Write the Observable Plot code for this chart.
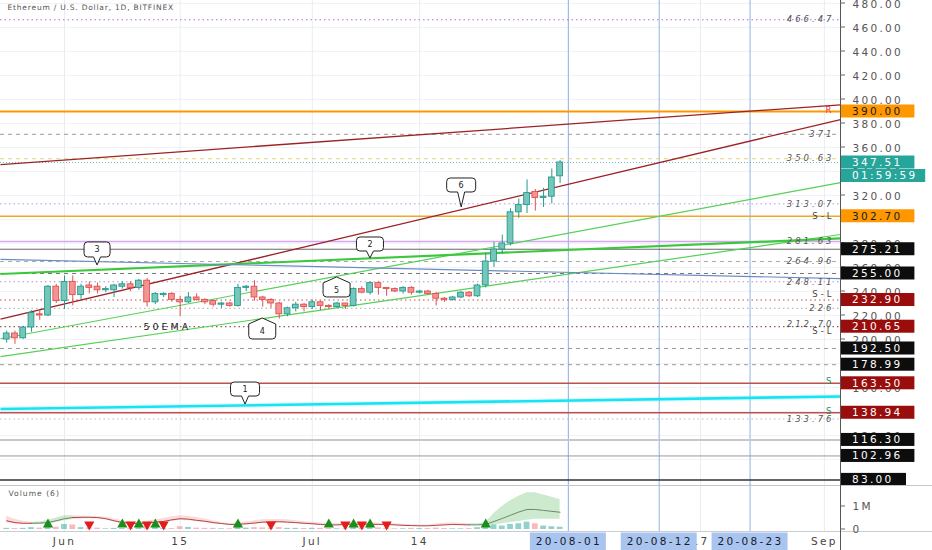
<!DOCTYPE html>
<html>
<head>
<meta charset="utf-8">
<script src="https://cdn.jsdelivr.net/npm/d3@7"></script>
<script src="https://cdn.jsdelivr.net/npm/@observablehq/plot@0.6"></script>
<style>
  html,body{margin:0;padding:0;background:#fff;}
  #chart{position:relative;width:932px;height:550px;overflow:hidden;}
  #chart svg{display:block;}
  #chart g[font-size="7.5"]{letter-spacing:0.8px;}
  #chart g[font-size="7.6"]{letter-spacing:1px;}
  #chart g[font-size="8.5"]{letter-spacing:3px;}
  #chart g[font-size="9.5"]{letter-spacing:3px;}
  #chart g[font-size="10.5"]{letter-spacing:2.3px;}
  #chart text.lsbox{letter-spacing:2.3px;}
</style>
</head>
<body>
<div id="chart"></div>
<script>
// ---------------- DATA ----------------
const title = "Ethereum / U.S. Dollar, 1D, BITFINEX";
const firstDay = "2020-05-25", lastDay = "2020-07-31";

const opens = [200,205,201,210,221,220,244,
  232,248,237,245,244,241,241,244,246,243,
  249,231,237,238,233,231,235,233,232,229,
  230,228,243,244,235,233,230,221,226,229,
  227,231,228,227,230,228,242,239,247,243,
  242,240,243,239,240,238,234,233,235,239,
  236,245,265,275,280,306,312,323,318,319,
  336];
const highs = [207,207,211,224,224,245,246,
  253,253,246,248,247,244,246,248,248,250,
  251,239,239,239,236,239,238,234,233,231,
  231,246,245,249,236,234,231,227,231,230,
  233,232,229,231,230,243,244,248,248,243,
  243,244,244,241,241,239,235,236,240,240,
  246,272,281,287,309,317,333,325,326,342,
  349];
const lows = [197,196,200,206,216,219,230,
  225,228,233,238,238,239,235,242,240,241,
  227,229,235,231,219,230,232,229,227,226,
  227,227,240,232,227,226,217,219,223,223,
  225,224,225,226,225,227,238,237,237,236,
  239,238,237,238,237,228,231,232,234,235,
  235,243,260,271,278,301,305,307,310,313,
  330];
const closes = [205,201,210,222,220,244,232,
  248,237,244,243,241,242,245,246,243,249,
  231,238,238,233,231,235,233,231,229,230,
  228,243,244,235,233,230,221,226,229,227,
  231,228,227,230,228,242,239,247,243,242,
  240,243,239,240,238,234,233,235,239,236,
  245,265,275,280,306,312,322,318,319,335,
  347.51];
// volume, in millions
const volumes = [0.05,0.04,0.05,0.08,0.06,0.18,0.10,
  0.22,0.20,0.08,0.07,0.06,0.03,0.05,0.04,0.05,0.08,
  0.18,0.10,0.04,0.04,0.12,0.09,0.06,0.05,0.05,0.03,
  0.03,0.12,0.06,0.08,0.07,0.06,0.08,0.05,0.05,0.04,
  0.05,0.05,0.04,0.03,0.03,0.10,0.07,0.08,0.07,0.05,
  0.03,0.03,0.05,0.04,0.04,0.06,0.04,0.03,0.03,0.04,
  0.08,0.20,0.20,0.15,0.22,0.25,0.32,0.25,0.15,0.12,
  0.10];
const volumeMA = [0.38,0.30,0.27,0.27,0.28,0.30,0.38,
  0.47,0.52,0.53,0.53,0.52,0.47,0.38,0.30,0.27,0.26,
  0.28,0.32,0.35,0.42,0.47,0.45,0.40,0.36,0.30,0.26,
  0.22,0.22,0.25,0.28,0.32,0.33,0.34,0.32,0.30,0.27,
  0.25,0.22,0.20,0.20,0.22,0.23,0.23,0.23,0.22,0.22,
  0.20,0.18,0.17,0.16,0.16,0.18,0.20,0.22,0.21,0.20,
  0.20,0.22,0.35,0.48,0.62,0.76,0.87,0.87,0.83,0.79,
  0.75];
const bandUpper = [0.58,0.45,0.36,0.32,0.33,0.40,0.50,
  0.60,0.60,0.58,0.57,0.56,0.53,0.46,0.38,0.33,0.31,
  0.36,0.42,0.48,0.55,0.60,0.58,0.52,0.46,0.38,0.30,
  0.26,0.28,0.33,0.38,0.42,0.44,0.44,0.42,0.38,0.34,
  0.32,0.28,0.25,0.25,0.28,0.30,0.30,0.29,0.28,0.27,
  0.25,0.23,0.21,0.20,0.20,0.24,0.27,0.29,0.27,0.25,
  0.25,0.30,0.70,1.00,1.25,1.45,1.60,1.60,1.50,1.40,
  1.30];
const bandLower = [0.28,0.24,0.22,0.22,0.22,0.24,0.30,
  0.38,0.44,0.46,0.47,0.46,0.41,0.33,0.26,0.23,0.22,
  0.23,0.26,0.29,0.35,0.39,0.38,0.34,0.30,0.25,0.22,
  0.19,0.18,0.20,0.23,0.26,0.27,0.28,0.27,0.25,0.23,
  0.21,0.19,0.17,0.17,0.18,0.19,0.19,0.19,0.18,0.18,
  0.17,0.15,0.14,0.13,0.13,0.15,0.17,0.18,0.18,0.17,
  0.17,0.18,0.20,0.25,0.30,0.35,0.40,0.45,0.45,0.45,
  0.45];
const greenSpans = [["2020-05-29","2020-06-02"],["2020-07-21","2020-07-31"]];
const upSignals = ["2020-05-30","2020-06-08","2020-06-10","2020-06-12","2020-06-22","2020-07-03","2020-07-06","2020-07-08","2020-07-22"];
const downSignals = ["2020-06-04","2020-06-09","2020-06-11","2020-06-13","2020-06-26","2020-07-05","2020-07-07","2020-07-10"];

const priceTicks = [100,120,140,160,180,200,220,240,260,280,300,320,340,360,380,400,420,440,460,480];
const gridDates = ["2020-06-01","2020-06-15","2020-07-01","2020-07-14","2020-08-01","2020-08-17","2020-09-01"];
const xTickDates = ["2020-06-01","2020-06-15","2020-07-01","2020-07-14","2020-08-17","2020-09-01"];
const xTickLabels = ["Jun","15","Jul","14","17","Sep"];
const markerDates = ["2020-08-01","2020-08-12","2020-08-23"];
const markerLabels = ["20-08-01","20-08-12","20-08-23"];

const levelPrices = [466.47,390,371,350.63,347.51,313.07,302.7,281.63,275.21,264.96,255,248.11,232.9,226,210.65,192.5,178.99,163.5,138.94,133.76,116.3,102.96,83];
const levelLabels = [
  {price:466.47,text:"466.47"},{price:371,text:"371"},{price:350.63,text:"350.63"},
  {price:313.07,text:"313.07"},{price:281.63,text:"281.63"},{price:264.96,text:"264.96"},
  {price:248.11,text:"248.11"},{price:226,text:"226"},{price:212.7,text:"212.70"},{price:133.76,text:"133.76"}
];
const tags = [
  {price:390,text:"R"},{price:302.7,text:"S-L"},{price:232.9,text:"S-L"},
  {price:210.65,text:"S-L"},{price:163.5,text:"S"},{price:138.94,text:"S"}
];
const priceBoxes = [
  {price:390,text:"390.00",kind:"orange"},
  {price:347.51,text:"347.51",kind:"teal"},
  {price:347.51,text:"01:59:59",kind:"teal",stack:1},
  {price:302.7,text:"302.70",kind:"orange"},
  {price:275.21,text:"275.21",kind:"black"},
  {price:255,text:"255.00",kind:"black"},
  {price:232.9,text:"232.90",kind:"red"},
  {price:210.65,text:"210.65",kind:"red"},
  {price:192.5,text:"192.50",kind:"black"},
  {price:178.99,text:"178.99",kind:"black"},
  {price:163.5,text:"163.50",kind:"red"},
  {price:138.94,text:"138.94",kind:"red"},
  {price:116.3,text:"116.30",kind:"black"},
  {price:102.96,text:"102.96",kind:"black"},
  {price:83,text:"83.00",kind:"black"}
];
const xDomain = [new Date("2020-05-24T06:00Z"), new Date("2020-09-02T22:48Z")];
const trendLines = [
  {id:"resUpper", p1:345.8, p2:395.6},
  {id:"resLower", p1:216.9, p2:383.3},
  {id:"greenA", p1:200.6, p2:330.8},
  {id:"greenB", p1:185.7, p2:287.5},
  {id:"greenC", p1:254.6, p2:284.2},
  {id:"blue", p1:266.7, p2:250.8},
  {id:"cyan", p1:142.1, p2:152.5}
];
const callouts = [
  {label:"1", date:"2020-06-22T22:00Z", price:145.8, pointer:"down"},
  {label:"2", date:"2020-07-08T01:00Z", price:267.5, pointer:"down"},
  {label:"3", date:"2020-06-05T00:00Z", price:261.7, pointer:"down"},
  {label:"4", date:"2020-06-25T00:00Z", price:217.5, pointer:"up"},
  {label:"5", date:"2020-07-04T00:00Z", price:251.7, pointer:"up"},
  {label:"6", date:"2020-07-19T02:00Z", price:310.0, pointer:"down"}
];
const emaNote = {date:"2020-06-13T11:00Z", price:210.8, text:"50EMA"};

// ---------------- STYLES ----------------
const levelStyle = {
  "466.47":{stroke:"#b36ae2",strokeWidth:1.2,strokeDasharray:"1.5,3"},
  "390":{stroke:"#ff9800",strokeWidth:2},
  "371":{stroke:"#9a9a9a",strokeDasharray:"4,4"},
  "350.63":{stroke:"#e3d37a",strokeDasharray:"4,4"},
  "347.51":{stroke:"#26a69a",strokeDasharray:"1,2",strokeOpacity:0.7},
  "313.07":{stroke:"#c490e4",strokeDasharray:"1.5,3"},
  "302.7":{stroke:"#f5a623",strokeWidth:1.3},
  "281.63":{stroke:"#d7a6f2",strokeWidth:1.5},
  "275.21":{stroke:"#666",strokeWidth:1},
  "264.96":{stroke:"#aaa",strokeDasharray:"4,4"},
  "255":{stroke:"#777",strokeDasharray:"4,4"},
  "248.11":{stroke:"#b58bd8",strokeDasharray:"1.5,3"},
  "232.9":{stroke:"#d24a4a",strokeDasharray:"1.5,3"},
  "226":{stroke:"#aaa",strokeDasharray:"1.5,3"},
  "210.65":{stroke:"#7a3030",strokeDasharray:"1.5,3"},
  "192.5":{stroke:"#999",strokeDasharray:"4,4"},
  "178.99":{stroke:"#999",strokeDasharray:"4,4"},
  "163.5":{stroke:"#c0504d",strokeWidth:1.5},
  "138.94":{stroke:"#c0504d",strokeWidth:1.5},
  "133.76":{stroke:"#bbb",strokeDasharray:"1.5,3"},
  "116.3":{stroke:"#c8c8c8",strokeWidth:2},
  "102.96":{stroke:"#9a9a9a",strokeWidth:1},
  "83":{stroke:"#333",strokeWidth:1.5}
};
const trendStyle = {
  resUpper:{stroke:"#9b2226",strokeWidth:1.3},
  resLower:{stroke:"#9b2226",strokeWidth:1.3},
  greenA:{stroke:"#55d155",strokeWidth:1.2},
  greenB:{stroke:"#55d155",strokeWidth:1.2},
  greenC:{stroke:"#3cc83c",strokeWidth:2.2},
  blue:{stroke:"#6a8cc4",strokeWidth:1.2},
  cyan:{stroke:"#19e3f2",strokeWidth:2.6}
};
const tagStyle = {
  "R":{fill:"#e53935"},
  "S":{fill:"#2e8b57"}
};
const tagDy = [-1,0,-6,5,-2,-2];
const boxFill = {orange:"#ff9800",teal:"#26a69a",black:"#0d0d0d",red:"#9a0d0d"};
const boxText = {orange:"#1a1a1a",teal:"#ffffff",black:"#ffffff",red:"#ffffff"};
const calloutShape = {
  "1":{w:29,h:14,ptr:8},"2":{w:27,h:14,ptr:7},"3":{w:26,h:15,ptr:8},
  "4":{w:27,h:15,ptr:6},"5":{w:27,h:14,ptr:6},"6":{w:29,h:14,ptr:15}
};
const upC = {fill:"#74c7ba",stroke:"#26998c"}, dnC = {fill:"#f39494",stroke:"#e04f4f"};

// ---------------- BUILD ----------------
const day = t => new Date(t.length > 10 ? t : t + "T00:00Z");
const days = d3.utcDay.range(day(firstDay), d3.utcDay.offset(day(lastDay), 1));
const rows = days.map((date, i) => ({
  date, open: opens[i], high: highs[i], low: lows[i], close: closes[i],
  volume: volumes[i] * 1e6, ma: volumeMA[i] * 1e6, up: bandUpper[i] * 1e6, lo: bandLower[i] * 1e6
}));
const half = 0.35 * 864e5;
const isUp = d => d.close >= d.open;
const isGreen = d => greenSpans.some(([a, b]) => d >= day(a) && d <= day(b));
const bandRows = [];
{ let seg = -1, prev = null;
  rows.forEach((r, i) => {
    const g = isGreen(r.date);
    if (g !== prev) { seg++; if (i > 0) bandRows.push({...rows[i-1], seg, green: g}); prev = g; }
    bandRows.push({...r, seg, green: g});
  });
}

const W = 932, MR = 92;
const font = {background:"transparent", overflow:"visible", fontFamily:"DejaVu Sans, sans-serif", fontSize:"10.5px", color:"#555"};

const rightTicks = values => (index, {y}, ch, dims) => {
  const g = d3.create("svg:g").attr("stroke", "#666");
  const x0 = dims.width - dims.marginRight;
  for (const v of values) g.append("line").attr("x1", x0).attr("x2", x0 + 5).attr("y1", y(v)).attr("y2", y(v));
  return g.node();
};

// tick labels that a price box hides completely are left out
const priceScale = v => 485 - (v - 78.33) / (482.5 - 78.33) * 485;
const visibleTicks = priceTicks.filter(t => t < 480 || true).filter(t =>
  !priceBoxes.some(b => Math.abs(priceScale(b.price) + (b.stack ? 13.5 * b.stack : 0) - priceScale(t)) < 4));

const boxesMark = (index, {y}, ch, dims) => {
  const g = d3.create("svg:g").attr("text-anchor", "start");
  const x0 = dims.width - dims.marginRight + 1;
  for (const b of priceBoxes) {
    const cy = y(b.price) + (b.stack ? 13.5 * b.stack : 0);
    const w = b.text.length * 8.4 + 23 - (b.stack ? 6 : 0);
    g.append("rect").attr("x", x0).attr("y", cy - 6.5).attr("width", w).attr("height", 13).attr("fill", boxFill[b.kind]);
    g.append("text").attr("class", "lsbox").attr("x", x0 + 11).attr("y", cy).attr("dy", "0.36em")
      .attr("text-anchor", "start").attr("font-size", 10.5).attr("fill", boxText[b.kind]).text(b.text);
  }
  return g.node();
};

const calloutMark = (index, {x, y}) => {
  const g = d3.create("svg:g");
  for (const c of callouts) {
    const s = calloutShape[c.label];
    const px = x(day(c.date)), py = y(c.price);
    const hw = s.w / 2, r = 3.5, l = px - hw, rt = px + hw;
    let d, ty;
    if (c.pointer === "down") {
      const top = py - s.ptr - s.h, bot = py - s.ptr;
      d = `M${l+r},${top}H${rt-r}Q${rt},${top} ${rt},${top+r}V${bot-r}Q${rt},${bot} ${rt-r},${bot}H${px+3.5}L${px},${py}L${px-3.5},${bot}H${l+r}Q${l},${bot} ${l},${bot-r}V${top+r}Q${l},${top} ${l+r},${top}Z`;
      ty = top + s.h / 2;
    } else {
      const top = py + s.ptr, bot = top + s.h;
      d = `M${px},${py}L${rt},${top}V${bot-r}Q${rt},${bot} ${rt-r},${bot}H${l+r}Q${l},${bot} ${l},${bot-r}V${top}Z`;
      ty = top + s.h / 2;
    }
    g.append("path").attr("d", d).attr("fill", "#fff").attr("stroke", "#222").attr("stroke-width", 1);
    g.append("text").attr("x", px).attr("y", ty).attr("dy", "0.36em").attr("text-anchor", "middle")
      .attr("font-size", 8).attr("fill", "#222").text(c.label);
  }
  return g.node();
};

const hSep = (py, color) => (index, scales, ch, dims) =>
  d3.create("svg:line").attr("x1", 0).attr("x2", dims.width).attr("y1", py).attr("y2", py).attr("stroke", color).node();

const markerBoxes = (index, {x}) => {
  const g = d3.create("svg:g");
  markerDates.forEach((d, i) => {
    const cx = x(day(d));
    g.append("rect").attr("x", cx - 38).attr("y", 47.5).attr("width", 76).attr("height", 17.5).attr("fill", "#a9c5ef");
    g.append("text").attr("class", "lsbox").attr("x", cx + 1).attr("y", 56.5).attr("dy", "0.36em").attr("text-anchor", "middle")
      .attr("font-size", 10.5).attr("fill", "#1a1a2a").text(markerLabels[i]);
  });
  return g.node();
};

const pricePlot = Plot.plot({
  width: W, height: 485,
  marginLeft: 0, marginRight: MR, marginTop: 0, marginBottom: 0,
  style: font,
  x: {type: "utc", domain: xDomain, axis: null},
  y: {domain: [78.33, 482.5], axis: null},
  color: {type: "identity"},
  marks: [
    Plot.ruleY(priceTicks, {stroke: "#f0f2f6"}),
    Plot.ruleX(gridDates, {x: day, stroke: "#e9edf3"}),
    Plot.ruleX(markerDates, {x: day, stroke: "#8fb3e6"}),
    ...levelPrices.map(p => Plot.ruleY([p], levelStyle[String(p)])),
    Plot.link(trendLines.filter(t => t.id === "cyan"), {x1: () => xDomain[0], x2: () => xDomain[1], y1: "p1", y2: "p2", stroke: "#19e3f2", strokeWidth: 5, strokeOpacity: 0.15}),
    ...trendLines.map(t => Plot.link([t], {x1: () => xDomain[0], x2: () => xDomain[1], y1: "p1", y2: "p2", ...trendStyle[t.id]})),
    Plot.ruleX(rows, {x: "date", y1: "low", y2: "high", stroke: d => isUp(d) ? upC.stroke : dnC.stroke, strokeWidth: 1}),
    Plot.rect(rows, {
      x1: d => new Date(+d.date - half), x2: d => new Date(+d.date + half),
      y1: "open", y2: "close",
      fill: d => isUp(d) ? upC.fill : dnC.fill,
      stroke: d => isUp(d) ? upC.stroke : dnC.stroke, strokeWidth: 0.9
    }),
    Plot.text(levelLabels, {x: () => xDomain[1], y: "price", text: "text", dx: -6, textAnchor: "end", fontSize: 8.5, fontStyle: "italic", fill: "#555"}),
    ...tags.map((t, i) => Plot.text([t], {x: () => xDomain[1], y: "price", text: "text", dx: -6, dy: tagDy[i], textAnchor: "end", fontSize: 8.5,
      fill: (tagStyle[t.text] || {fill: "#444"}).fill})),
    Plot.text([emaNote], {x: d => day(d.date), y: "price", text: "text", fontSize: 9.5, fill: "#1a1a1a"}),
    calloutMark,
    Plot.text([title], {text: d => d, frameAnchor: "top-left", dx: 7, dy: 7, textAnchor: "start", lineAnchor: "middle", fontSize: 7.5, fill: "#555"}),
    Plot.ruleX([xDomain[1]], {stroke: "#555"}),
    rightTicks(priceTicks),
    Plot.text(visibleTicks, {x: () => xDomain[1], y: d => d, text: d => d.toFixed(2), dx: 12, dy: 1, textAnchor: "start", fontSize: 10.5, fill: "#555"}),
    boxesMark
  ]
});

const volPlot = Plot.plot({
  width: W, height: 65,
  marginLeft: 0, marginRight: MR, marginTop: 0, marginBottom: 0,
  style: font,
  x: {type: "utc", domain: xDomain, axis: null},
  y: {domain: [0, 1e6], range: [44, 21], axis: null},
  color: {type: "identity"},
  marks: [
    Plot.ruleX(gridDates, {x: day, y1: 1.95e6, y2: -0.1e6, stroke: "#e9edf3"}),
    Plot.ruleX(markerDates, {x: day, y1: 1.95e6, y2: -0.1e6, stroke: "#8fb3e6"}),
    Plot.areaY(bandRows, {x: "date", y1: "lo", y2: "up", z: "seg", fill: d => d.green ? "rgba(76,175,80,0.28)" : "rgba(244,100,100,0.24)"}),
    Plot.rectY(rows, {x1: d => new Date(+d.date - half), x2: d => new Date(+d.date + half), y: "volume",
      fill: d => isUp(d) ? "rgba(38,166,154,0.5)" : "rgba(239,83,80,0.4)"}),
    Plot.line(bandRows, {x: "date", y: "ma", z: "seg", stroke: d => d.green ? "#6d8a6d" : "#b04848", strokeWidth: 1}),
    Plot.dot(upSignals, {x: day, frameAnchor: "bottom", dy: -26, symbol: "triangle", r: 3.8, fill: "#1a8f1a", stroke: "none"}),
    Plot.dot(downSignals, {x: day, frameAnchor: "bottom", dy: -26, symbol: "triangle", rotate: 180, r: 3.8, fill: "#e31c1c", stroke: "none"}),
    Plot.text(["Volume (6)"], {text: d => d, frameAnchor: "top-left", dx: 8, dy: 8, textAnchor: "start", lineAnchor: "middle", fontSize: 7.6, fill: "#555"}),
    hSep(0.5, "#c3c6cc"),
    hSep(46.5, "#c9ccd2"),
    Plot.text(xTickDates, {x: day, text: (d, i) => xTickLabels[i], frameAnchor: "bottom", dy: -8.5, lineAnchor: "middle", fontSize: 10.5, fill: "#444"}),
    markerBoxes,
    Plot.ruleX([xDomain[1]], {stroke: "#555"}),
    rightTicks([0, 1e6]),
    Plot.text([0, 1e6], {x: () => xDomain[1], y: d => d, text: d => d ? "1M" : "0", dx: 12, textAnchor: "start", fontSize: 10.5, fill: "#555"})
  ]
});

const root = document.getElementById("chart");
root.append(pricePlot, volPlot);
</script>
</body>
</html>
